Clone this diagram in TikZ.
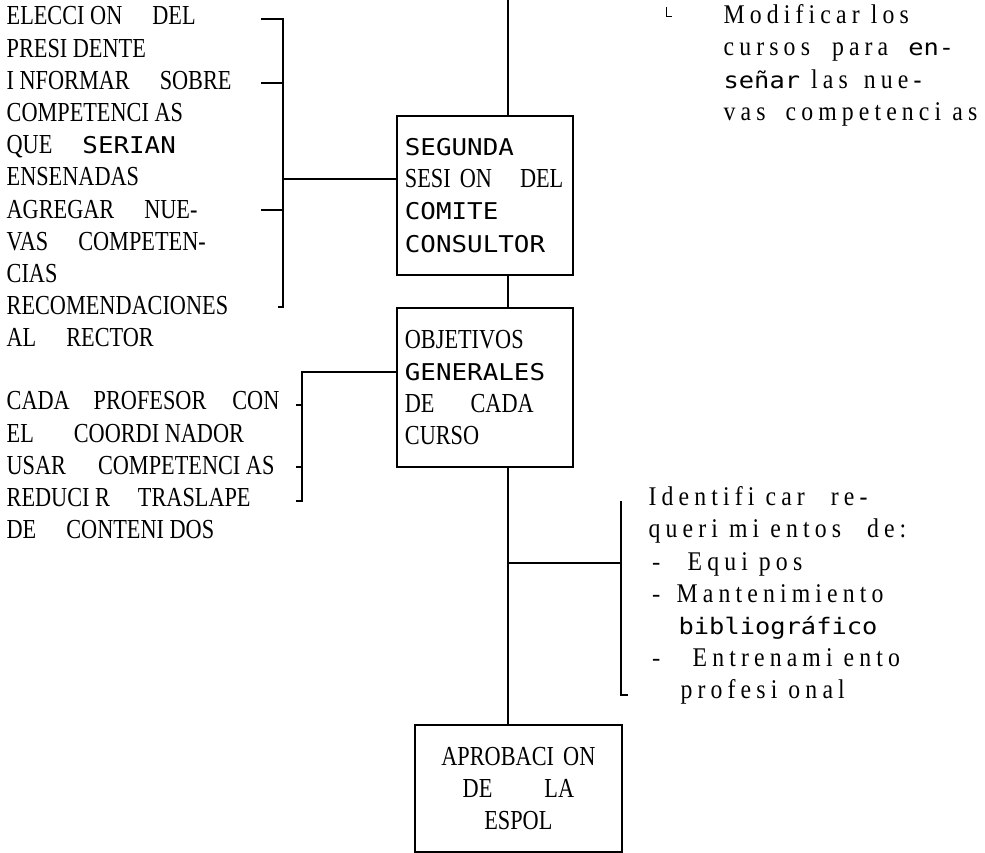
\documentclass[tikz,border=0pt]{standalone}
\usepackage{fontspec}
\setmainfont{Liberation Serif}[FakeStretch=0.81]
\newfontfamily\tty{DejaVu Sans Mono}[FakeStretch=1.12,Scale=0.84]
\newfontfamily\spc{Liberation Serif}[LetterSpace=19,FakeStretch=0.88]
\newcommand{\gp}{\hspace{30pt}}

\begin{document}
\begin{tikzpicture}[x=1pt,y=-1pt,line width=1.3pt,
    every node/.style={inner sep=0pt,font=\fontsize{27.5}{32.2}\selectfont},
    caja/.style={draw,line width=1.8pt,anchor=north west,minimum width=176pt,
      minimum height=159pt,text width=160pt,inner xsep=8pt,align=left},
    lista/.style={anchor=north west,align=left},
    espaciada/.style={lista,font=\fontsize{27}{32.2}\spc}]
  \useasboundingbox (0,0) rectangle (985,853);

  \node[caja] (seg) at (396,115) {{\tty SEGUNDA}\\\mbox{SESI ON\hspace{28pt}DEL}\\{\tty COMITE}\\{\tty CONSULTOR}};
  \node[caja] (obj) at (396,307) {OBJETIVOS\\{\tty GENERALES}\\\mbox{DE\hspace{36pt}CADA}\\CURSO};
  \node[caja,minimum width=207pt,minimum height=127pt,text width=191pt,align=center]
    (apr) at (414,724) {APROBACI ON\\DE\hspace{52pt}LA\\ESPOL};

  \node[lista] (ele) at (6,6) {ELECCI ON\gp DEL\\PRESI DENTE\\I NFORMAR\gp SOBRE\\
    COMPETENCI AS\\QUE\gp{\tty SERIAN}\\ENSENADAS\\AGREGAR\gp NUE-\\VAS\gp COMPETEN-\\
    CIAS\\RECOMENDACIONES\\AL\gp RECTOR};
  \node[lista] (cad) at (6,391) {CADA\hspace{24pt}PROFESOR\hspace{26pt}CON\\EL\hspace{40pt}COORDI NADOR\\
    USAR\hspace{32pt}COMPETENCI AS\\REDUCI R\hspace{28pt}TRASLAPE\\DE\gp CONTENI DOS};
  \node[espaciada] (mod) at (723,4) {Modificar los\\cursos\hspace{22pt}para\hspace{20pt}{\tty en-}\\
    {\tty señar} las\hspace{16pt}nue-\\vas\hspace{20pt}competenci as};
  \node[espaciada] (req) at (648,486) {Identifi car\hspace{26pt}re-\\queri mi entos\hspace{26pt}de:\\
    \makebox[39pt][l]{\tty -}Equi pos\\\makebox[28pt][l]{\tty -}Mantenimiento\\\hspace*{30pt}{\tty bibliográfico}\\
    \makebox[44pt][l]{\tty -}Entrenami ento\\\hspace*{32pt}profesi onal};

  \coordinate (tp) at (508,0);
  \draw (tp) -- (tp |- seg.north);
  \draw (seg.south -| tp) -- (obj.north -| tp);
  \draw (obj.south -| tp) -- (apr.north -| tp);

  \coordinate (j1) at (283,179);
  \draw (261,19) -- (283,19) -- (283,307) -- (278,307);
  \draw (261,83) -- (283,83) (261,210) -- (283,210);
  \draw (j1) -- (j1 -| seg.west);

  \coordinate (j2) at (302,372);
  \draw (j2 -| obj.west) -- (j2) -- (302,501) -- (296,501);
  \draw (296,405) -- (302,405) (296,467) -- (302,467);

  \coordinate (j3) at (621,563);
  \draw (j3 -| tp) -- (j3);
  \draw (621,501) -- (621,695) -- (628,695);

  \draw[line width=1pt] (666,7) -- (666,17) -- (672,17);
\end{tikzpicture}
\end{document}
